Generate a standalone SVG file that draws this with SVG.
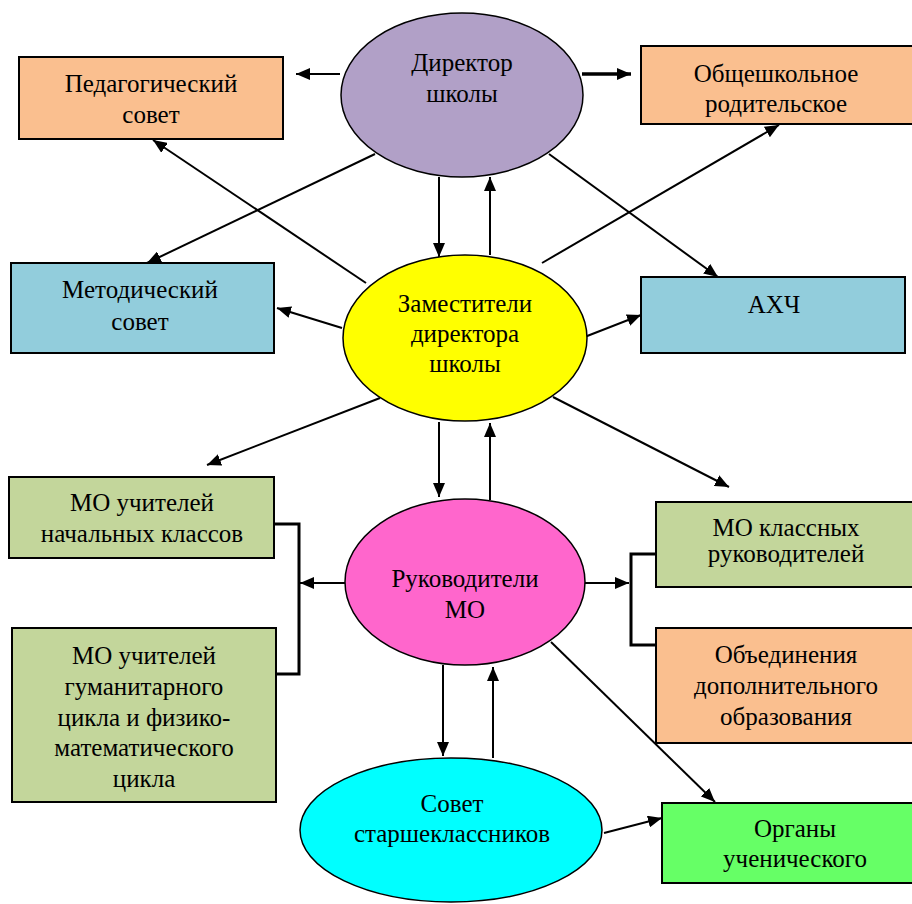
<svg xmlns="http://www.w3.org/2000/svg" width="912" height="904" viewBox="0 0 912 904" font-family="'Liberation Serif', 'Times New Roman', serif">
<defs>
<style>
.box{stroke:#000;stroke-width:2}
.ell{stroke:#000;stroke-width:1.5}
.t text{font-family:'Liberation Serif','Times New Roman',serif;font-size:25px;fill:#000;text-anchor:middle}
.c{fill:none;stroke:#000;stroke-width:2;marker-end:url(#ah)}
.thick{stroke-width:3.5}
.br{fill:none;stroke:#000;stroke-width:3}
.peach{fill:#FABF8F}
.blue{fill:#92CDDC}
.green{fill:#C3D69B}
</style>
<marker id="ah" viewBox="0 0 14 12" refX="14" refY="6" markerWidth="14" markerHeight="12" markerUnits="userSpaceOnUse" orient="auto">
<path d="M0,0 L14,6 L0,12 z" fill="#000"/>
</marker>
</defs>
<rect width="912" height="904" fill="#fff"/>

<g id="connectors">
<path class="c" d="M340,74 L296,74"/>
<path class="c thick" d="M582,74 L631,74"/>
<path class="c" d="M439,177 L439,257"/>
<path class="c" d="M490,255 L490,177"/>
<path class="c" d="M366,283 L153,140"/>
<path class="c" d="M375,154 L147,263"/>
<path class="c" d="M342,328 L277,308"/>
<path class="c" d="M542,263 L779,125"/>
<path class="c" d="M549,154 L718,277"/>
<path class="c" d="M582,338 L641,315"/>
<path class="c" d="M380,398 L207,465"/>
<path class="c" d="M439,422 L439,497"/>
<path class="c" d="M490,500 L490,423"/>
<path class="c" d="M553,397 L729,487"/>
<path class="c" d="M345,583 L300,583"/>
<path class="br" d="M274,524 L299,524 L299,674 L276,674"/>
<path class="c" d="M584,583 L629,583"/>
<path class="br" d="M656,554 L631,554 L631,645 L656,645"/>
<path class="c" d="M443,665 L443,756"/>
<path class="c" d="M493,758 L493,667"/>
<path class="c" d="M551,642 L715,802"/>
<path class="c" d="M604,833 L662,818"/>
</g>

<g class="t" font-family="'Liberation Serif', serif" font-size="25" text-anchor="middle">
<g id="director">
<ellipse class="ell" cx="462" cy="95" rx="121" ry="82" fill="#B1A0C7"/>
<text x="462" y="71">Директор</text>
<text x="462" y="102">школы</text>
</g>

<g id="ped-sovet">
<rect class="box peach" x="19" y="57" width="264" height="82"/>
<text x="151" y="92">Педагогический</text>
<text x="151" y="123">совет</text>
</g>

<g id="parent-council">
<rect class="box peach" x="641" y="46" width="280" height="78"/>
<text x="776" y="82">Общешкольное</text>
<text x="776" y="112">родительское</text>
</g>

<g id="metod-sovet">
<rect class="box blue" x="11" y="263" width="263" height="90"/>
<text x="140" y="298">Методический</text>
<text x="140" y="330">совет</text>
</g>

<g id="ahch">
<rect class="box blue" x="641" y="277" width="264" height="76"/>
<text x="774" y="313">АХЧ</text>
</g>

<g id="deputies">
<ellipse class="ell" cx="465" cy="338" rx="122" ry="83" fill="#FFFF00"/>
<text x="465" y="312">Заместители</text>
<text x="465" y="342">директора</text>
<text x="465" y="372">школы</text>
</g>

<g id="mo-primary">
<rect class="box green" x="9" y="477" width="265" height="81"/>
<text x="142" y="511">МО учителей</text>
<text x="142" y="542">начальных классов</text>
</g>

<g id="mo-humanities">
<rect class="box green" x="12" y="628" width="264" height="174"/>
<text x="144" y="664">МО учителей</text>
<text x="144" y="695">гуманитарного</text>
<text x="144" y="726">цикла и физико-</text>
<text x="144" y="756">математического</text>
<text x="144" y="787">цикла</text>
</g>

<g id="mo-heads">
<ellipse class="ell" cx="465" cy="582" rx="120" ry="83" fill="#FF66CC"/>
<text x="465" y="587">Руководители</text>
<text x="465" y="618">МО</text>
</g>

<g id="mo-class">
<rect class="box green" x="656" y="502" width="270" height="85"/>
<text x="786" y="536">МО классных</text>
<text x="786" y="562">руководителей</text>
</g>

<g id="additional-edu">
<rect class="box peach" x="656" y="628" width="270" height="115"/>
<text x="786" y="663">Объединения</text>
<text x="786" y="694">дополнительного</text>
<text x="786" y="725">образования</text>
</g>

<g id="senior-council">
<ellipse class="ell" cx="451" cy="830" rx="151" ry="72" fill="#00FFFF"/>
<text x="452" y="812">Совет</text>
<text x="452" y="842">старшеклассников</text>
</g>

<g id="student-bodies">
<rect class="box" x="662" y="803" width="266" height="80" fill="#66FF66"/>
<text x="795" y="837">Органы</text>
<text x="795" y="867">ученического</text>
</g>
</g>
</svg>
